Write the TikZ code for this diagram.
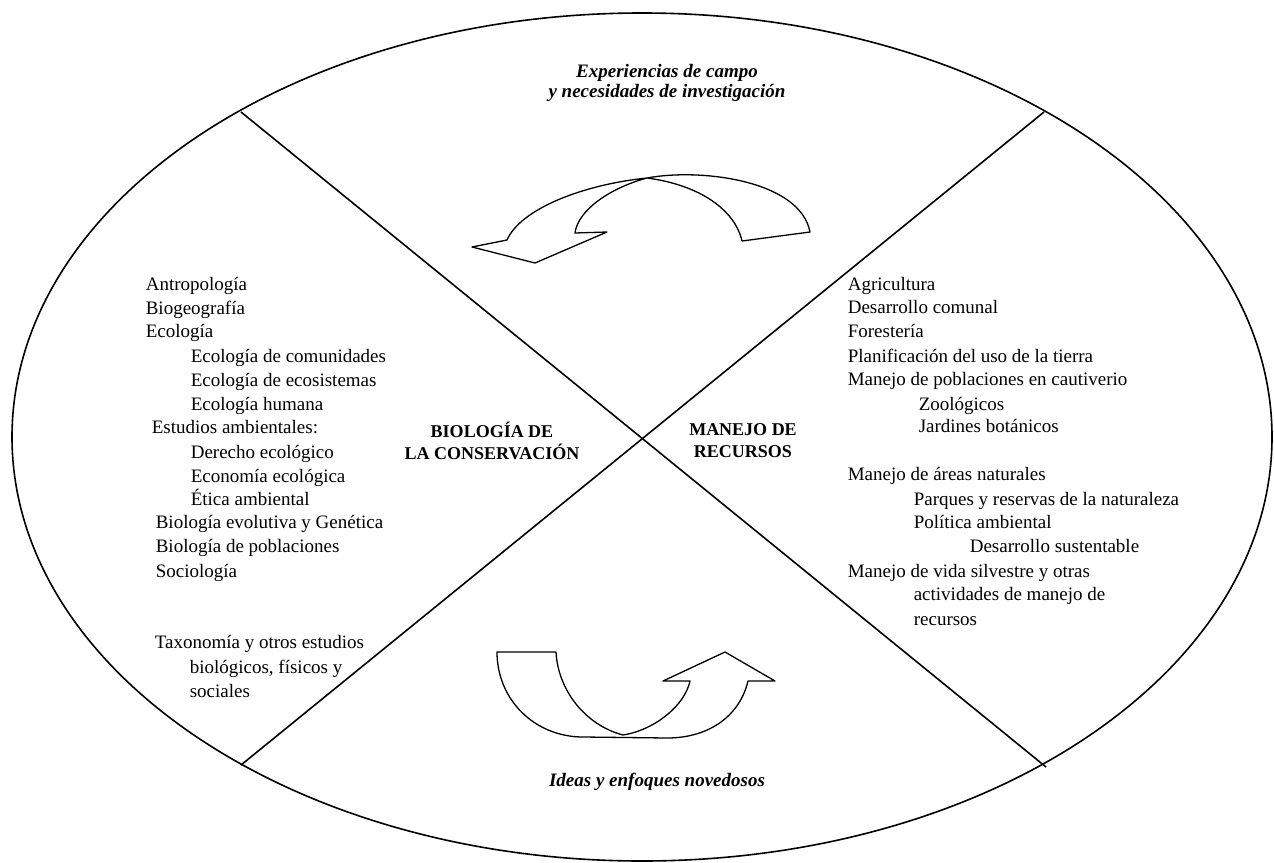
\documentclass[tikz,border=0pt]{standalone}
\usepackage{fontspec}
\setmainfont{Liberation Serif}
\begin{document}
\begin{tikzpicture}[x=1pt,y=-1pt,line width=1.6pt,line join=round,
  item/.style={anchor=base west,inner sep=0pt,font=\fontsize{19}{23}\selectfont},
  head/.style={align=center,inner sep=0pt,font=\fontsize{18}{22}\selectfont\bfseries},
  flow/.style={align=center,inner sep=0pt,font=\fontsize{19}{20}\selectfont\bfseries\itshape},
  turn/.style={line width=1.3pt}]
\useasboundingbox (0,0) rectangle (1274,862);

% Outer ellipse
\draw (642,437) ellipse [x radius=630, y radius=424];

% Dividing lines
\coordinate (tl) at (241,112);
\coordinate (br) at (1046,767);
\coordinate (tr) at (1044,112);
\coordinate (bl) at (241,765);
\draw (tl) -- (br);
\draw (tr) -- (bl);

% Upper curved arrow
\draw[turn] (507,240) .. controls (520,210) and (580,185) .. (647,178)
  .. controls (700,168) and (800,180) .. (810,232) -- (742,241)
  .. controls (735,210) and (700,185) .. (647,178)
  .. controls (610,188) and (578,210) .. (575,233)
  -- (607,232) -- (535,263) -- (472,247) -- cycle;

% Lower curved arrow
\draw[turn] (497,652) -- (556,652)
  .. controls (558,690) and (585,725) .. (623,735)
  .. controls (655,730) and (685,705) .. (690,681)
  -- (663,681) -- (725,652) -- (775,681) -- (748,681)
  .. controls (740,715) and (710,738) .. (667,738) -- (583,737)
  .. controls (535,737) and (497,700) .. cycle;

% Sector titles
\node[head] (bio) at (492,441) {BIOLOGÍA DE\\LA CONSERVACIÓN};
\node[head] (man) at (743,441) {MANEJO DE\\RECURSOS};
\node[flow] (campo) at (667,83) {Experiencias de campo\\y necesidades de investigación};
\node[flow] (ideas) at (657,782) {Ideas y enfoques novedosos};

% Disciplines (left)
\foreach \x/\y/\t [count=\i] in {
  {145/285/Antropología}, {145/309/Biogeografía}, {145/332/Ecología},
  {190/357/Ecología de comunidades}, {190/381/Ecología de ecosistemas},
  {190/405/Ecología humana}, {151/428/Estudios ambientales:},
  {190/453/Derecho ecológico}, {190/477/Economía ecológica},
  {190/500/Ética ambiental}, {155/523/Biología evolutiva y Genética},
  {155/547/Biología de poblaciones}, {155/572/Sociología},
  {154/643/Taxonomía y otros estudios}, {189/668/biológicos, físicos y},
  {189/692/sociales}} {
  \node[item] (left\i) at (\x,\y+5) {\t};
}

% Resource fields (right)
\foreach \x/\y/\t [count=\i] in {
  {847/285/Agricultura}, {847/308/Desarrollo comunal}, {847/332/Forestería},
  {847/357/Planificación del uso de la tierra},
  {847/380/Manejo de poblaciones en cautiverio},
  {918/405/Zoológicos}, {918/427/Jardines botánicos},
  {847/475/Manejo de áreas naturales},
  {913/500/Parques y reservas de la naturaleza},
  {913/523/Política ambiental}, {969/547/Desarrollo sustentable},
  {847/572/Manejo de vida silvestre y otras},
  {913/595/actividades de manejo de}, {913/620/recursos}} {
  \node[item] (right\i) at (\x,\y+5) {\t};
}

\end{tikzpicture}
\end{document}
